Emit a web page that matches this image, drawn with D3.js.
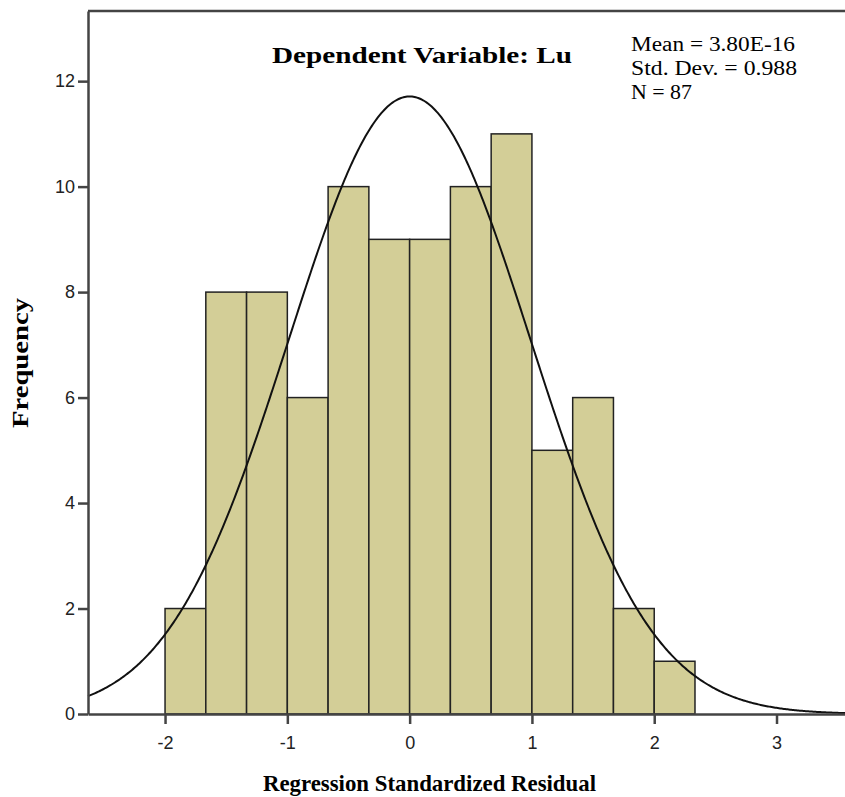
<!DOCTYPE html>
<meta charset="utf-8">
<head>
    <script src="https://d3js.org/d3.v7.min.js"></script>
</head>
<style>
    body { margin: 0; background: white; }
    .tick text { font-family: 'Liberation Sans', Arial, sans-serif; font-size: 18px; fill: #222; }
    .axis-title { font-family: 'Liberation Serif', 'Times New Roman', serif; font-size: 24px; font-weight: bold; }
    .stats { font-family: 'Liberation Serif', 'Times New Roman', serif; font-size: 20px; }
</style>
<div id="my_dataviz"></div>
<script>
    // histogram data (bin width 1/3, starting at -2)
    var binStart = -2, binWidth = 1 / 3;
    var counts = [2, 8, 8, 6, 10, 9, 9, 10, 11, 5, 6, 2, 1];
    var xTicks = [-2, -1, 0, 1, 2, 3];
    var yTicks = [0, 2, 4, 6, 8, 10, 12];
    var stats = {mean: 3.80e-16, sd: 0.988, n: 87};
    var statLines = ["Mean = 3.80E-16", "Std. Dev. = 0.988", "N = 87"];
    var statWidths = [164, 166, 61];

    var W = 845, H = 797;
    var margin = {top: 11, right: 0, bottom: 83, left: 88},
        width = W - margin.left - margin.right,
        height = H - margin.top - margin.bottom;

    var svg = d3.select("#my_dataviz")
        .append("svg")
        .attr("width", W)
        .attr("height", H)
        .append("g")
        .attr("transform", "translate(" + margin.left + "," + margin.top + ")");

    var x = d3.scaleLinear().domain([-2.63, 3.56]).range([0, width]);
    var y = d3.scaleLinear().domain([0, 13.33]).range([height, 0]);

    // bars
    svg.append("g")
        .selectAll("rect")
        .data(counts)
        .enter()
        .append("rect")
        .attr("x", function (d, i) { return x(binStart + i * binWidth); })
        .attr("width", function (d, i) { return x(binStart + (i + 1) * binWidth) - x(binStart + i * binWidth); })
        .attr("y", function (d) { return y(d); })
        .attr("height", function (d) { return height - y(d); })
        .style("fill", "#d3ce97")
        .style("stroke", "#222")
        .style("stroke-width", 1.5);

    // normal curve from the reported mean / sd / N
    var pts = d3.range(-2.63, 3.561, 0.01).map(function (v) {
        var z = (v - stats.mean) / stats.sd;
        return [v, stats.n * binWidth / (stats.sd * Math.sqrt(2 * Math.PI)) * Math.exp(-0.5 * z * z)];
    });
    svg.append("path")
        .datum(pts)
        .attr("d", d3.line().x(function (d) { return x(d[0]); }).y(function (d) { return y(d[1]); }))
        .style("fill", "none")
        .style("stroke", "#111")
        .style("stroke-width", 2);

    // axes
    var xAxis = svg.append("g")
        .attr("transform", "translate(0," + height + ")")
        .call(d3.axisBottom(x).tickValues(xTicks).tickFormat(function (d) { return String(d); })
            .tickSize(10).tickPadding(10).tickSizeOuter(0));
    var yAxis = svg.append("g")
        .call(d3.axisLeft(y).tickValues(yTicks).tickFormat(function (d) { return String(d); })
            .tickSize(10).tickPadding(3).tickSizeOuter(0));
    [xAxis, yAxis].forEach(function (a) {
        a.select(".domain").style("stroke", "#444").style("stroke-width", 2.5);
        a.selectAll(".tick line").style("stroke", "#444").style("stroke-width", 2.5);
    });
    xAxis.selectAll(".tick text").attr("dy", "0.85em");

    // top frame line
    svg.append("line")
        .attr("x1", 0).attr("x2", width)
        .attr("y1", 0).attr("y2", 0)
        .style("stroke", "#444").style("stroke-width", 2.5);

    // title
    svg.append("text")
        .attr("class", "axis-title")
        .attr("x", 184)
        .attr("y", 52)
        .attr("textLength", 300)
        .attr("lengthAdjust", "spacingAndGlyphs")
        .text("Dependent Variable: Lu");

    // stats box
    svg.append("g")
        .selectAll("text")
        .data(statLines)
        .enter()
        .append("text")
        .attr("class", "stats")
        .attr("x", 543)
        .attr("y", function (d, i) { return 40 + i * 24; })
        .attr("textLength", function (d, i) { return statWidths[i]; })
        .attr("lengthAdjust", "spacingAndGlyphs")
        .text(function (d) { return d; });

    // axis titles
    svg.append("text")
        .attr("class", "axis-title")
        .attr("x", 175)
        .attr("y", height + 77)
        .attr("textLength", 333)
        .attr("lengthAdjust", "spacingAndGlyphs")
        .text("Regression Standardized Residual");

    svg.append("text")
        .attr("class", "axis-title")
        .attr("transform", "rotate(-90)")
        .attr("x", -417)
        .attr("y", -60)
        .attr("textLength", 130)
        .attr("lengthAdjust", "spacingAndGlyphs")
        .text("Frequency");
</script>
